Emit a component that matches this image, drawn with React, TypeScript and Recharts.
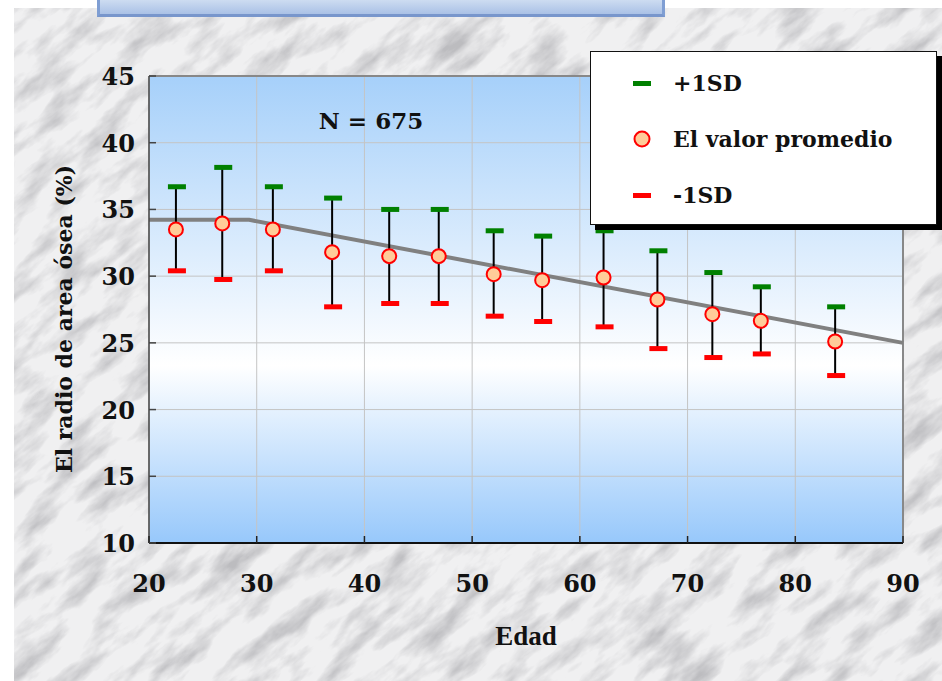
import React from "react";
import {
  ComposedChart,
  Line,
  Scatter,
  ErrorBar,
  XAxis,
  YAxis,
  CartesianGrid,
  ReferenceLine,
} from "recharts";

// grupos de edad y valores
const ages = [22.5, 26.8, 31.5, 37.0, 42.3, 46.9, 52.0, 56.5, 62.2, 67.2, 72.3, 76.8, 83.7];
const means = [33.5, 33.95, 33.5, 31.8, 31.5, 31.5, 30.15, 29.7, 29.9, 28.25, 27.15, 26.65, 25.1];
const plusSD = [36.7, 38.15, 36.7, 35.85, 35.0, 35.0, 33.4, 33.0, 33.4, 31.9, 30.27, 29.2, 27.7];
const minusSD = [30.4, 29.75, 30.4, 27.7, 27.95, 27.95, 27.0, 26.6, 26.2, 24.57, 23.9, 24.17, 22.55];

// línea de referencia (gris)
const trendAges = [20, 29.3, 90];
const trendValues = [34.22, 34.22, 25.0];

const xTicks = [20, 30, 40, 50, 60, 70, 80, 90];
const yTicks = [10, 15, 20, 25, 30, 35, 40, 45];

const legendItems = ["+1SD", "El valor promedio", "-1SD"];

const points = ages.map((age, i) => ({
  age,
  mean: means[i],
  hi: plusSD[i],
  lo: minusSD[i],
  err: [means[i] - minusSD[i], plusSD[i] - means[i]],
}));

const trend = trendAges.map((age, i) => ({ age, value: trendValues[i] }));

const SERIF = "'DejaVu Serif', serif";
const TIMES = "'Liberation Serif', serif";

const GreenCap = (props: any) => (
  <rect x={props.cx - 8} y={props.cy - 2.5} width={18} height={5} fill="#008000" />
);
const RedCap = (props: any) => (
  <rect x={props.cx - 8} y={props.cy - 2.5} width={18} height={5} fill="#ff0000" />
);
const MeanDot = (props: any) => (
  <circle cx={props.cx} cy={props.cy} r={7} fill="#ffcc99" stroke="#ff0000" strokeWidth={2} />
);
const Nothing = () => <g />;

const YTick = ({ x, y, payload }: any) => (
  <g>
    <line x1={x} x2={x + 7} y1={y} y2={y} stroke="#444" strokeWidth={1.5} />
    <text x={x - 14} y={y + 9} textAnchor="end" fontFamily={SERIF} fontWeight="bold" fontSize={24} fill="#111">
      {payload.value}
    </text>
  </g>
);

const XTick = ({ x, y, payload }: any) => (
  <g>
    <line x1={x} x2={x} y1={y} y2={y - 7} stroke="#222" strokeWidth={1.5} />
    <text x={x} y={y + 49} textAnchor="middle" fontFamily={SERIF} fontWeight="bold" fontSize={24} fill="#111">
      {payload.value}
    </text>
  </g>
);

const Marble = () => (
  <svg width={928} height={673} style={{ position: "absolute", left: 14, top: 8 }}>
    <defs>
      <filter id="marble" x="0" y="0" width="100%" height="100%">
        <feTurbulence type="fractalNoise" baseFrequency="0.018 0.05" numOctaves={5} seed={11} />
        <feColorMatrix
          type="matrix"
          values="0 0 0 0 0.5  0 0 0 0 0.5  0 0 0 0 0.52  2.2 0 0 0 -0.95"
        />
      </filter>
    </defs>
    <rect width={928} height={673} fill="#f0f0f1" />
    <g transform="rotate(-40 464 336)">
      <rect x={-400} y={-400} width={1730} height={1480} filter="url(#marble)" />
    </g>
  </svg>
);

export default function App() {
  return (
    <div style={{ position: "absolute", left: 0, top: 0, width: 942, height: 681, background: "#fff", overflow: "hidden" }}>
      <Marble />
      <div
        style={{
          position: "absolute",
          left: 97,
          top: 0,
          width: 562,
          height: 14,
          background: "linear-gradient(#cddcf1, #aac1e6)",
          borderLeft: "3px solid #7f9ed3",
          borderRight: "3px solid #7f9ed3",
          borderBottom: "3px solid #7896cc",
        }}
      />
      <svg width={0} height={0} style={{ position: "absolute" }}>
        <defs>
          <linearGradient id="plotBg" x1="0" y1="0" x2="0" y2="1">
            <stop offset="0%" stopColor="#a6d0fa" />
            <stop offset="62%" stopColor="#ffffff" />
            <stop offset="100%" stopColor="#97c8fb" />
          </linearGradient>
        </defs>
      </svg>
      <div style={{ position: "absolute", left: 0, top: 0 }}>
        <ComposedChart width={942} height={681} margin={{ top: 76, right: 39, bottom: 0, left: 0 }}>
          <CartesianGrid stroke="#c4c4c4" strokeWidth={1} fill="url(#plotBg)" fillOpacity={1} />
          <XAxis
            type="number"
            dataKey="age"
            domain={[20, 90]}
            ticks={xTicks}
            height={138}
            tickSize={0}
            tickMargin={0}
            tick={<XTick />}
            axisLine={{ stroke: "#111", strokeWidth: 2 }}
            label={{
              value: "Edad",
              position: "insideBottom",
              offset: 36,
              fontFamily: TIMES,
              fontWeight: "bold",
              fontSize: 27,
              fill: "#111",
            }}
          />
          <YAxis
            type="number"
            domain={[10, 45]}
            ticks={yTicks}
            width={149}
            tickSize={0}
            tickMargin={0}
            tick={<YTick />}
            axisLine={{ stroke: "#444", strokeWidth: 1.5 }}
            label={{
              content: () => (
                <text
                  x={64}
                  y={319}
                  transform="rotate(-90 64 319)"
                  textAnchor="middle"
                  dominantBaseline="central"
                  fontFamily={SERIF}
                  fontWeight="bold"
                  fontSize={22}
                  fill="#111"
                >
                  El radio de area ósea (%)
                </text>
              ),
            }}
          />
          <ReferenceLine y={45} stroke="#888" strokeWidth={2} />
          <ReferenceLine x={90} stroke="#888" strokeWidth={2} />
          <Line
            data={trend}
            dataKey="value"
            stroke="#808080"
            strokeWidth={4}
            dot={false}
            isAnimationActive={false}
          />
          <Scatter data={points} dataKey="mean" shape={MeanDot} isAnimationActive={false} />
          <Scatter data={points} dataKey="mean" shape={Nothing} isAnimationActive={false}>
            <ErrorBar dataKey="err" direction="y" width={0} stroke="#000" strokeWidth={2} isAnimationActive={false} />
          </Scatter>
          <Scatter data={points} dataKey="hi" shape={GreenCap} isAnimationActive={false} />
          <Scatter data={points} dataKey="lo" shape={RedCap} isAnimationActive={false} />
        </ComposedChart>
      </div>
      <div
        style={{
          position: "absolute",
          left: 106,
          top: 107,
          width: 530,
          textAlign: "center",
          fontFamily: SERIF,
          fontWeight: "bold",
          fontSize: 23,
          color: "#111",
          pointerEvents: "none",
        }}
      >
        N = 675
      </div>
      <div
        style={{
          position: "absolute",
          left: 590,
          top: 51,
          width: 345,
          height: 172,
          background: "#fff",
          border: "1px solid #111",
          boxShadow: "5px 5px 0 #000",
          fontFamily: SERIF,
          fontWeight: "bold",
          fontSize: 22,
          color: "#111",
        }}
      >
        {legendItems.map((name, i) => (
          <div key={name} style={{ position: "absolute", left: 0, top: 13 + i * 56, height: 36, display: "flex", alignItems: "center" }}>
            <svg width={82} height={36}>
              {i === 1 ? (
                <circle cx={51} cy={18} r={7.5} fill="#ffcc99" stroke="#ff0000" strokeWidth={2} />
              ) : (
                <rect x={42} y={16} width={18} height={5} fill={i === 0 ? "#008000" : "#ff0000"} />
              )}
            </svg>
            <span>{name}</span>
          </div>
        ))}
      </div>
    </div>
  );
}
